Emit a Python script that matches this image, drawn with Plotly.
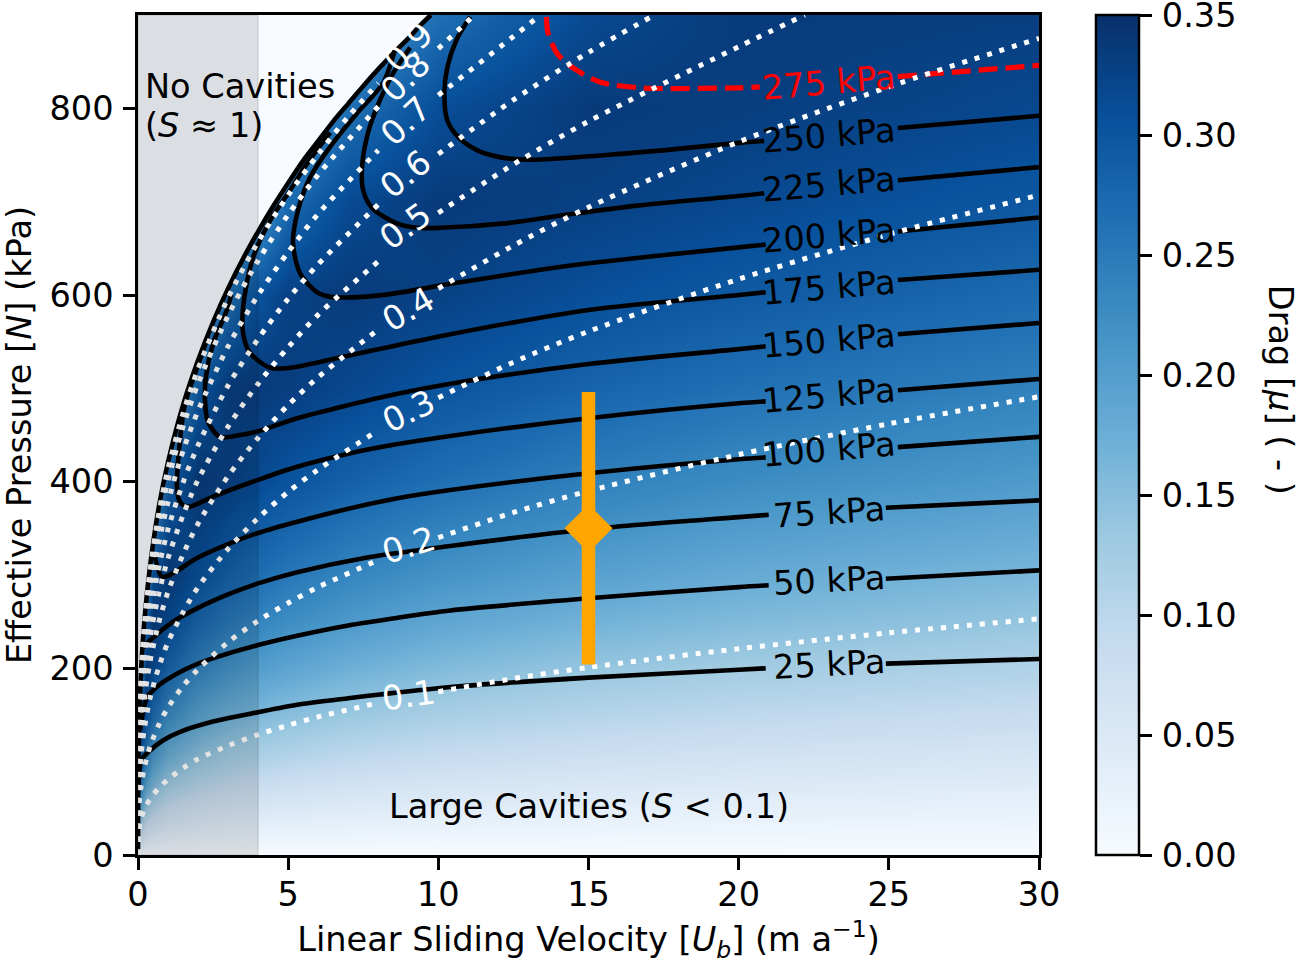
import plotly.graph_objects as go

# ---------- drag field ----------
velocity_grid = [0, 0.1, 0.25, 0.5, 1, 2, 3, 4, 5, 7, 10, 15, 20, 30]
pressure_grid = [0, 25, 50, 75, 100, 150, 200, 250, 300, 400, 500, 600, 700, 800, 900]
drag = [
    [0.0, 0.0, 0.0, 0.0, 0.0, 0.0, 0.0, 0.0, 0.0, 0.0, 0.0, 0.0, 0.0, 0.0],
    [.094, .094, .069, .055, .044, .035, .030, .027, .025, .023, .020, .018, .016, .014],
    [.178, .178, .136, .110, .087, .069, .060, .055, .051, .045, .040, .035, .032, .028],
    [.242, .242, .193, .159, .129, .104, .091, .082, .076, .068, .060, .053, .048, .042],
    [.290, .290, .239, .201, .167, .137, .120, .110, .102, .091, .081, .071, .064, .056],
    [.337, .337, .306, .268, .230, .193, .172, .159, .150, .135, .120, .106, .096, .084],
    [.22, .22, .337, .315, .277, .239, .217, .201, .190, .173, .156, .139, .127, .112],
    [.2, .2, .287, .336, .313, .276, .253, .238, .225, .207, .188, .169, .156, .138],
    [.2, .2, .2, .304, .334, .306, .284, .268, .255, .236, .217, .196, .181, .162],
    [.2, .2, .2, .2, .284, .337, .327, .315, .303, .285, .265, .243, .226, .205],
    [.2, .2, .2, .2, .2, .287, .330, .336, .332, .320, .302, .280, .264, .241],
    [.2, .2, .2, .2, .2, .2, .262, .304, .328, .336, .327, .309, .294, .271],
    [.2, .2, .2, .2, .2, .2, .2, .21, .272, .315, .337, .329, .318, .297],
    [.2, .2, .2, .2, .2, .2, .2, .2, .2, .265, .310, .337, .332, .318],
    [.2, .2, .2, .2, .2, .2, .2, .2, .2, .2, .265, .316, .336, .331],
]
blues = ["#f7fbff", "#deebf7", "#c6dbef", "#9ecae1", "#6baed6", "#4292c6", "#2171b5", "#08519c", "#08306b"]
colorbar_ticks = [0, 0.05, 0.10, 0.15, 0.20, 0.25, 0.30, 0.34999]
colorbar_labels = ["\u200a0.00", "\u200a0.05", "\u200a0.10", "\u200a0.15", "\u200a0.20", "\u200a0.25", "\u200a0.30", "\u200a0.35"]

# ---------- no-cavity boundary ----------
limit_u = [0, 0.01, 0.03, 0.05, 0.1, 0.2, 0.4, 0.7, 1, 1.5, 2, 2.5, 3, 3.5, 4, 4.5, 5, 5.5, 6, 6.5, 7, 7.5, 8, 8.5, 9, 9.4, 9.75]
limit_n = [0, 91, 131, 155, 196, 246, 309, 374, 421, 482, 530, 571, 607, 639, 668, 695, 720, 744, 765, 786, 805, 824, 842, 859, 875, 889, 900]

# ---------- shear stress contours (kPa) ----------
tau25_u = [0.01, 0.12, 0.4, 0.84, 1.4, 2.5, 4, 5.3, 7, 8.06, 10.4, 15, 20, 20.9, None, 24.9, 30]
tau25_n = [70, 102, 112, 123, 132, 143, 153, 161, 168, 172, 180, 190, 198.5, 200, None, 205, 210]
tau50_u = [0.07, 0.29, 0.62, 1.4, 2.33, 4, 5.3, 7, 8.6, 10.4, 15, 20, 21, None, 24.9, 30]
tau50_n = [134, 168, 180, 196, 209, 225, 235, 246, 254, 262, 275, 287, 289, None, 296, 305]
tau75_u = [0.17, 0.4, 1.17, 1.95, 3.06, 4, 5.3, 7.5, 10.4, 15, 20, 21, None, 24.9, 30]
tau75_n = [222, 230, 250, 264, 280, 291, 303, 318, 331, 349, 362, 364.5, None, 372, 380]
tau100_u = [0.57, 0.8, 1.17, 1.95, 3.06, 4, 5.3, 7, 8.6, 10.4, 15, 20, 20.9, None, 25.3, 30]
tau100_n = [319, 298, 302, 318, 334, 345, 357, 371, 382, 391, 409, 424, 426, None, 437, 448]
tau125_u = [2.33, 1.9, 1.57, 1.4, 1.3, 1.4, 1.67, 2.5, 4, 5.3, 7, 8.6, 10.4, 15, 20, 20.9, None, 25.3, 30]
tau125_n = [555, 516, 484, 445, 394, 378, 373, 384, 402, 416, 430, 440, 449, 468, 484, 486, None, 498, 510]
tau150_u = [3.1, 2.96, 2.5, 2.26, 2.23, 2.33, 2.73, 3.4, 4, 5.3, 7, 8.6, 10.4, 15, 20, 20.9, None, 25.3, 30]
tau150_n = [600, 584, 548, 512, 488, 464, 448, 450, 454, 468, 482, 494, 505, 526, 542, 545, None, 558, 570]
tau175_u = [6.4, 5.63, 5.06, 4.4, 3.8, 3.5, 3.5, 3.73, 4.4, 5.06, 7, 8.6, 10.4, 15, 20, 20.9, None, 25.3, 30]
tau175_n = [774, 741, 712, 680, 637, 587, 559, 538, 522, 522, 535, 546, 558, 584, 600, 603, None, 616, 627]
tau200_u = [8.55, 8.16, 7.3, 6.4, 5.73, 5.33, 5.16, 5.4, 5.96, 6.4, 7.5, 8.6, 9.7, 10.4, 13.4, 15, 20, 20.9, None, 25.3, 30]
tau200_n = [862, 827, 795, 759, 726, 691, 656, 623, 603, 598, 598, 602, 608, 612, 627, 634, 651, 654, None, 668, 683]
tau225_u = [9.06, 8.5, 8.06, 7.66, 7.46, 7.5, 7.8, 8.6, 9.3, 10.06, 12.3, 14.5, 16.7, 20, 20.85, None, 25.3, 30]
tau225_n = [865, 838, 809, 774, 737, 712, 693, 677, 672, 672, 677, 687, 696, 706, 709, None, 723, 737]
tau250_u = [11.06, 10.6, 10.3, 10.2, 10.3, 10.7, 11.3, 12, 13.05, 15.6, 17.8, 20, 20.85, None, 25.3, 30]
tau250_n = [898, 873, 844, 816, 787, 768, 755, 748, 745, 750, 756, 763, 765, None, 779, 792]
tau275_u = [13.6, 13.65, 13.95, 14.5, 15.4, 16.7, 20, 20.7, None, 25.3, 30]
tau275_n = [898, 881, 859, 843, 828, 822, 822, 823, None, 834, 846]

tau_names = ["25 kPa", "50 kPa", "75 kPa", "100 kPa", "125 kPa", "150 kPa", "175 kPa", "200 kPa", "225 kPa", "250 kPa", "275 kPa"]
tau_label_n = [204, 294, 367, 434, 492, 551, 608, 664, 718, 771, 828]
tau_label_angle = [-3, -3, -4, -5, -5, -5, -5, -5, -5, -5, -5]
tau_label_u = 23.0

# ---------- cavity fraction contours ----------
s_u = [0, 0.01, 0.05, 0.1, 0.2, 0.4, 0.7, 1, 1.5, 2, 3, 4, 5, 6, 8, None, 10, 12.5, 15, 20, 25, 30]
s1_n = [0, 17.5, 30, 38, 48, 60, 72, 81, 93, 103, 117, 129, 139, 148, 163, None, 175, 189, 201, 221, 238, 253]
s2_n = [0, 34, 58, 73, 92, 116, 140, 158, 181, 199, 228, 251, 270, 287, 316, None, 340, 367, 390, 429, 462, 491]
s3_n = [0, 49, 84, 106, 133, 168, 202, 228, 260, 287, 328, 361, 389, 413, 455, None, 490, 528, 561, 617, 665, 707]
s4_n = [0, 61, 104, 131, 165, 207, 250, 282, 322, 355, 406, 447, 482, 512, 563, None, 607, 653, 694, 764, 823, 875]
s5_u = [0, 0.01, 0.05, 0.1, 0.2, 0.4, 0.7, 1, 1.5, 2, 3, 4, 5, 6, 8, None, 10, 12.5, 15, 20, 22.2]
s5_n = [0, 69, 117, 147, 185, 233, 281, 318, 364, 402, 459, 505, 544, 579, 636, None, 688, 740, 786, 866, 900]
s6_u = [0, 0.01, 0.05, 0.1, 0.2, 0.4, 0.7, 1, 1.5, 2, 3, 4, 5, 6, 8, None, 10, 12.5, 15, 17.2]
s6_n = [0, 75, 128, 162, 204, 257, 309, 349, 399, 439, 503, 553, 596, 633, 697, None, 751, 809, 860, 900]
s7_u = [0, 0.01, 0.05, 0.1, 0.2, 0.4, 0.7, 1, 1.5, 2, 3, 4, 5, 6, 8, None, 10, 12.5, 13.4]
s7_n = [0, 81, 139, 175, 221, 278, 335, 378, 433, 476, 545, 600, 646, 687, 755, None, 814, 877, 900]
s8_u = [0, 0.01, 0.05, 0.1, 0.2, 0.4, 0.7, 1, 1.5, 2, 3, 4, 5, 6, 8, None, 10, 11.2]
s8_n = [0, 86, 148, 186, 235, 295, 356, 401, 459, 505, 578, 637, 686, 729, 802, None, 864, 900]
s9_u = [0, 0.01, 0.05, 0.1, 0.2, 0.4, 0.7, 1, 1.5, 2, 3, 4, 5, 6, 7, 8, None, 10.1]
s9_n = [0, 89, 152, 192, 242, 305, 367, 414, 473, 521, 597, 657, 707, 751, 791, 827, None, 900]

s_names = ["0.1", "0.2", "0.3", "0.4", "0.5", "0.6", "0.7", "0.8", "0.9"]
s_label_u = [9.0, 9.0, 9.0, 9.0, 8.9, 8.9, 8.9, 8.9, 9.0]
s_label_n = [171, 332, 475, 584, 673, 729, 786, 833, 865]
s_label_angle = [-8, -17, -26, -30, -36, -39, -43, -45, -45]

# ---------- orange measurement ----------
range_u = [15, 15]
range_n = [204, 496]
point_u = [15]
point_n = [350]

FONT = "DejaVu Sans"
SIZE = 33.6

fig = go.Figure()
fig.add_trace(go.Heatmap(
    x=velocity_grid, y=pressure_grid, z=drag, zmin=0, zmax=0.35, zsmooth="best",
    colorscale=[[i / 8, c] for i, c in enumerate(blues)], hoverinfo="skip",
    colorbar=dict(thickness=43, thicknessmode="pixels", len=1, lenmode="fraction", y=0.5, yanchor="middle",
                  x=1.0633, xanchor="left", xpad=0, ypad=0, outlinewidth=2.5, outlinecolor="black",
                  tickmode="array", tickvals=colorbar_ticks, ticktext=colorbar_labels, ticks="outside", ticklen=12, tickwidth=2.5,
                  ticklabeloverflow="allow", tickcolor="black", tickfont=dict(family=FONT, size=SIZE, color="black")),
))
fig.add_trace(go.Scatter(x=limit_u + [0], y=limit_n + [900], mode="none", fill="toself", fillcolor="#f7fbff", hoverinfo="skip"))
fig.add_trace(go.Scatter(x=limit_u, y=limit_n, mode="lines", line=dict(color="black", width=4.6, shape="spline", smoothing=0.6), hoverinfo="skip"))

black_curves = [(tau25_u, tau25_n), (tau50_u, tau50_n), (tau75_u, tau75_n), (tau100_u, tau100_n), (tau125_u, tau125_n),
                (tau150_u, tau150_n), (tau175_u, tau175_n), (tau200_u, tau200_n), (tau225_u, tau225_n), (tau250_u, tau250_n)]
for u, n in black_curves:
    fig.add_trace(go.Scatter(x=u, y=n, mode="lines", line=dict(color="black", width=4.6, shape="spline", smoothing=0.8), hoverinfo="skip"))
fig.add_trace(go.Scatter(x=tau275_u, y=tau275_n, mode="lines",
                         line=dict(color="#ff0000", width=5.2, dash="19px,8px", shape="spline", smoothing=0.8), hoverinfo="skip"))

dotted = [(s_u, s1_n), (s_u, s2_n), (s_u, s3_n), (s_u, s4_n), (s5_u, s5_n), (s6_u, s6_n), (s7_u, s7_n), (s8_u, s8_n), (s9_u, s9_n)]
for u, n in dotted:
    fig.add_trace(go.Scatter(x=u, y=n, mode="lines", line=dict(color="white", width=5, dash="5px,8px", shape="spline", smoothing=0.8), hoverinfo="skip"))

fig.add_trace(go.Scatter(x=range_u, y=range_n, mode="lines", line=dict(color="#ffa500", width=13.5), hoverinfo="skip"))
fig.add_trace(go.Scatter(x=point_u, y=point_n, mode="markers", marker=dict(symbol="diamond", size=37, color="#ffa500"), hoverinfo="skip"))

annotations = []
for name, n, ang in zip(tau_names, tau_label_n, tau_label_angle):
    annotations.append(dict(x=tau_label_u, y=n, text=name, textangle=ang, showarrow=False, xanchor="center", yanchor="middle",
                            font=dict(family=FONT, size=SIZE, color="#ff0000" if name.startswith("275") else "black")))
for name, u, n, ang in zip(s_names, s_label_u, s_label_n, s_label_angle):
    annotations.append(dict(x=u, y=n, text=name, textangle=ang, showarrow=False, xanchor="center", yanchor="middle",
                            font=dict(family=FONT, size=SIZE, color="white")))
annotations += [
    dict(x=0.17, y=823, text="No Cavities", showarrow=False, xanchor="left", yanchor="middle", font=dict(family=FONT, size=SIZE, color="black")),
    dict(x=0.17, y=782, text="(<i>S</i> ≈ 1)", showarrow=False, xanchor="left", yanchor="middle", font=dict(family=FONT, size=SIZE, color="black")),
    dict(x=15, y=52, text="Large Cavities (<i>S</i> &lt; 0.1)", showarrow=False, xanchor="center", yanchor="middle", font=dict(family=FONT, size=SIZE, color="black")),
    dict(xref="paper", yref="paper", x=1.2677, y=0.5536, text="Drag [<i>μ</i>] ( - )", textangle=90, showarrow=False,
         xanchor="center", yanchor="middle", font=dict(family=FONT, size=SIZE, color="black")),
]

axis_style = dict(showgrid=False, zeroline=False, showline=True, linecolor="black", linewidth=2.5, mirror=True,
                  ticks="outside", ticklen=12, tickwidth=2.5, tickcolor="black",
                  tickfont=dict(family=FONT, size=SIZE, color="black"))
fig.update_layout(
    width=1300, height=967, showlegend=False, plot_bgcolor="white", paper_bgcolor="white",
    margin=dict(l=138, r=261, t=15, b=112, autoexpand=False),
    font=dict(family=FONT, size=SIZE, color="black"),
    xaxis=dict(range=[0, 30], tickvals=[0, 5, 10, 15, 20, 25, 30], automargin=False, ticklabelstandoff=-4,
               title=dict(text="Linear Sliding Velocity [<i>U<sub>b</sub></i>] (m a<sup>−1</sup>)", standoff=15,
                          font=dict(family=FONT, size=SIZE, color="black")), **axis_style),
    yaxis=dict(range=[0, 900], tickvals=[0, 200, 400, 600, 800], automargin=False, ticklabelstandoff=3,
               title=dict(text="Effective Pressure [<i>N</i>] (kPa)", standoff=11,
                          font=dict(family=FONT, size=SIZE, color="black")), **axis_style),
    annotations=annotations,
    shapes=[dict(type="rect", xref="x", yref="y", x0=0, x1=4, y0=0, y1=900, fillcolor="rgba(0,0,0,0.11)",
                 line=dict(color="rgba(0,0,0,0.08)", width=2), layer="above")],
)
fig.write_html("out.html", config={"displayModeBar": False}, post_script="document.body.style.margin='0';")
